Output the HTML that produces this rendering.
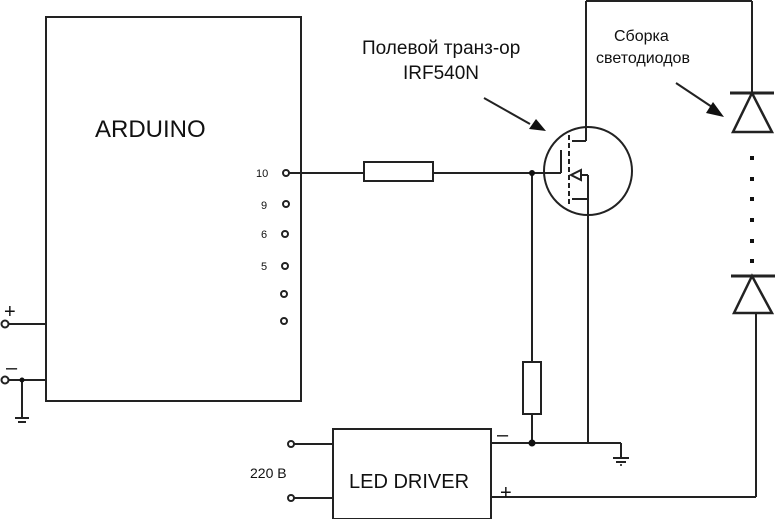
<!DOCTYPE html>
<html><head><style>body{margin:0;background:#fff}svg{display:block}text{font-family:"Liberation Sans",Arial,sans-serif;fill:#111}</style></head><body>
<svg width="780" height="519" viewBox="0 0 780 519" xmlns="http://www.w3.org/2000/svg">
<g stroke="#222" stroke-width="2" fill="none">
<rect x="46" y="17" width="255" height="384"/>
<line x1="8" y1="324" x2="46" y2="324"/>
<line x1="8" y1="380" x2="46" y2="380"/>
<line x1="22" y1="380" x2="22" y2="418"/>
<line x1="15" y1="418" x2="29" y2="418"/><line x1="18" y1="422" x2="26" y2="422"/>
<circle cx="5" cy="324" r="3.5"/><circle cx="5" cy="380" r="3.5"/>
<circle cx="286" cy="173" r="3"/><circle cx="286" cy="204" r="3"/><circle cx="285" cy="234" r="3"/><circle cx="285" cy="266" r="3"/><circle cx="284" cy="294" r="3"/><circle cx="284" cy="321" r="3"/>
<line x1="289" y1="173" x2="364" y2="173"/>
<rect x="364" y="162" width="69" height="19"/>
<line x1="433" y1="173" x2="561" y2="173"/>
<line x1="532" y1="173" x2="532" y2="362"/>
<rect x="523" y="362" width="18" height="52"/>
<line x1="532" y1="414" x2="532" y2="443"/>
<circle cx="588" cy="171" r="44"/>
<line x1="561" y1="150" x2="561" y2="173"/>
<line x1="569" y1="135" x2="569" y2="205" stroke-dasharray="5,3"/>
<line x1="572" y1="141" x2="586" y2="141"/>
<line x1="586" y1="141" x2="586" y2="1"/>
<line x1="586" y1="1" x2="752" y2="1"/>
<line x1="752" y1="1" x2="752" y2="93"/>
<line x1="581" y1="175" x2="588" y2="175"/>
<polygon points="571,175 581,170 581,180"/>
<line x1="588" y1="175" x2="588" y2="443"/>
<line x1="572" y1="199" x2="587" y2="199"/>
<line x1="730" y1="93" x2="774" y2="93" stroke-width="3"/>
<polygon points="752,93 733,132 772,132" stroke-width="2.5"/>
<line x1="731" y1="276" x2="775" y2="276" stroke-width="3"/>
<polygon points="752,276 734,313 772,313" stroke-width="2.5"/>
<line x1="756" y1="313" x2="756" y2="497"/>
<line x1="491" y1="497" x2="756" y2="497"/>
<line x1="491" y1="443" x2="621" y2="443"/>
<line x1="621" y1="443" x2="621" y2="458"/>
<line x1="613" y1="458" x2="629" y2="458"/><line x1="616" y1="462" x2="626" y2="462"/>
<rect x="333" y="429" width="158" height="90"/>
<line x1="294" y1="444" x2="333" y2="444"/>
<line x1="294" y1="498" x2="333" y2="498"/>
<circle cx="291" cy="444" r="3"/><circle cx="291" cy="498" r="3"/>
<line x1="484" y1="98" x2="530" y2="124"/>
<line x1="676" y1="83" x2="712" y2="107"/>
</g>
<g fill="#111">
<circle cx="532" cy="173" r="3"/><circle cx="532" cy="443" r="3.5"/><circle cx="22" cy="380" r="2.5"/>
<polygon points="546,131 529,129 536,119"/>
<polygon points="724,117 706,113 713,102"/>
<circle cx="621" cy="465" r="1"/>
<rect x="750" y="156" width="4" height="4"/><rect x="750" y="177" width="4" height="4"/><rect x="750" y="197" width="4" height="4"/><rect x="750" y="218" width="4" height="4"/><rect x="750" y="239" width="4" height="4"/><rect x="750" y="259" width="4" height="4"/>
</g>
<text x="95" y="137" font-size="24">ARDUINO</text>
<text x="256" y="177" font-size="11">10</text>
<text x="261" y="209" font-size="11">9</text>
<text x="261" y="238" font-size="11">6</text>
<text x="261" y="270" font-size="11">5</text>
<text x="4" y="318" font-size="20">+</text>
<text x="6" y="374" font-size="20">–</text>
<text x="362" y="54" font-size="19">Полевой транз-ор</text>
<text x="403" y="79" font-size="19">IRF540N</text>
<text x="614" y="41" font-size="16">Сборка</text>
<text x="596" y="63" font-size="16">светодиодов</text>
<text x="250" y="478" font-size="14">220 В</text>
<text x="349" y="488" font-size="20">LED DRIVER</text>
<text x="497" y="441" font-size="20">–</text>
<text x="500" y="499" font-size="20">+</text>
</svg>
</body></html>
